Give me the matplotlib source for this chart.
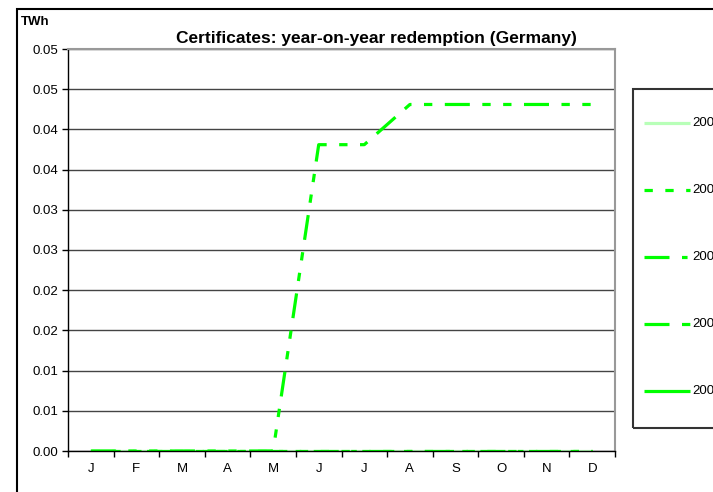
import numpy as np
import matplotlib
matplotlib.use("Agg")
import matplotlib.pyplot as plt
from matplotlib.lines import Line2D
from matplotlib.patches import Rectangle

plt.rcParams['font.family'] = ['Liberation Sans', 'DejaVu Sans']
plt.rcParams['lines.scale_dashes'] = False

months = ['J', 'F', 'M', 'A', 'M', 'J', 'J', 'A', 'S', 'O', 'N', 'D']
years = ['2004', '2005', '2006', '2007', '2008']
s2004 = [0, 0, 0, 0, 0, 0, 0, 0, 0, 0, 0, 0]
s2005 = [0, 0, 0, 0, 0, 0, 0, 0, 0, 0, 0, 0]
s2006 = [0, 0, 0, 0, 0, 0, 0, 0, 0, 0, 0, 0]
s2007 = [0, 0, 0, 0, 0, 0.0381, 0.0381, 0.0431, 0.0431, 0.0431, 0.0431, 0.0431]
s2008 = [np.nan] * 12
yticks = [0, 0.005, 0.01, 0.015, 0.02, 0.025, 0.03, 0.035, 0.04, 0.045, 0.05]
ytick_labels = ['0.00', '0.01', '0.01', '0.02', '0.02', '0.03', '0.03',
                '0.04', '0.04', '0.05', '0.05']

green = '#00ff00'
styles = [
    dict(color='#b8ffb8', linestyle='-'),
    dict(color=green, dashes=(6, 9)),
    dict(color=green, dashes=(18, 9, 4, 9)),
    dict(color=green, dashes=(18, 9, 6, 9, 6, 9)),
    dict(color=green, linestyle='-'),
]
series = [s2004, s2005, s2006, s2007, s2008]

W, H = 713, 492
fig = plt.figure(figsize=(W / 100, H / 100), dpi=100)
ax = fig.add_axes([68 / W, 1 - 451 / H, (615 - 68) / W, (451 - 49) / H])

x = np.arange(len(months))
for data, st in zip(series, styles):
    ax.plot(x, data, linewidth=2.3, solid_capstyle='butt',
            dash_capstyle='butt', **st)

ax.set_xlim(-0.5, 11.5)
ax.set_ylim(0, 0.05)
ax.set_yticks(yticks)
ax.set_yticklabels(ytick_labels, fontsize=9.5)
ax.set_xticks(x)
ax.set_xticklabels(months, fontsize=9.5)
ax.set_xticks(np.arange(-0.5, 12, 1), minor=True)
ax.tick_params(axis='x', which='major', length=0, pad=9)
ax.tick_params(axis='x', which='minor', length=4, direction='out', width=1)
ax.tick_params(axis='y', length=4, direction='out', width=1, pad=3)
ax.yaxis.grid(True, color='#444444', linewidth=1)
ax.set_axisbelow(True)
for side in ['top', 'right']:
    ax.spines[side].set_color('#999999')
    ax.spines[side].set_linewidth(1.5)
for side in ['left', 'bottom']:
    ax.spines[side].set_color('black')
    ax.spines[side].set_linewidth(1)

fig.text(376 / W, 1 - 38 / H, 'Certificates: year-on-year redemption (Germany)',
         ha='center', va='center', fontsize=12.5, fontweight='bold')
fig.text(21 / W, 1 - 22 / H, 'TWh', ha='left', va='center',
         fontsize=9.5, fontweight='bold')

# outer chart border, cut off at the right and bottom
fig.patches.append(Rectangle((17 / W, -0.1), 1.2, 1 - 9 / H + 0.1,
                             transform=fig.transFigure, fill=False,
                             edgecolor='black', linewidth=1.5))

# legend box, running off the right edge like the original
fig.patches.append(Rectangle((633 / W, 1 - 428 / H), 0.2, (428 - 89) / H,
                             transform=fig.transFigure, fill=False,
                             edgecolor='#333333', linewidth=1.5))
for i, (lab, st) in enumerate(zip(years, styles)):
    yy = 1 - (123 + i * 67) / H
    fig.add_artist(Line2D([644 / W, 690 / W], [yy, yy], transform=fig.transFigure,
                          linewidth=2.3, solid_capstyle='butt',
                          dash_capstyle='butt', **st))
    fig.text(692 / W, yy, lab, ha='left', va='center', fontsize=9.5)

fig.savefig('out.png', dpi=100)
